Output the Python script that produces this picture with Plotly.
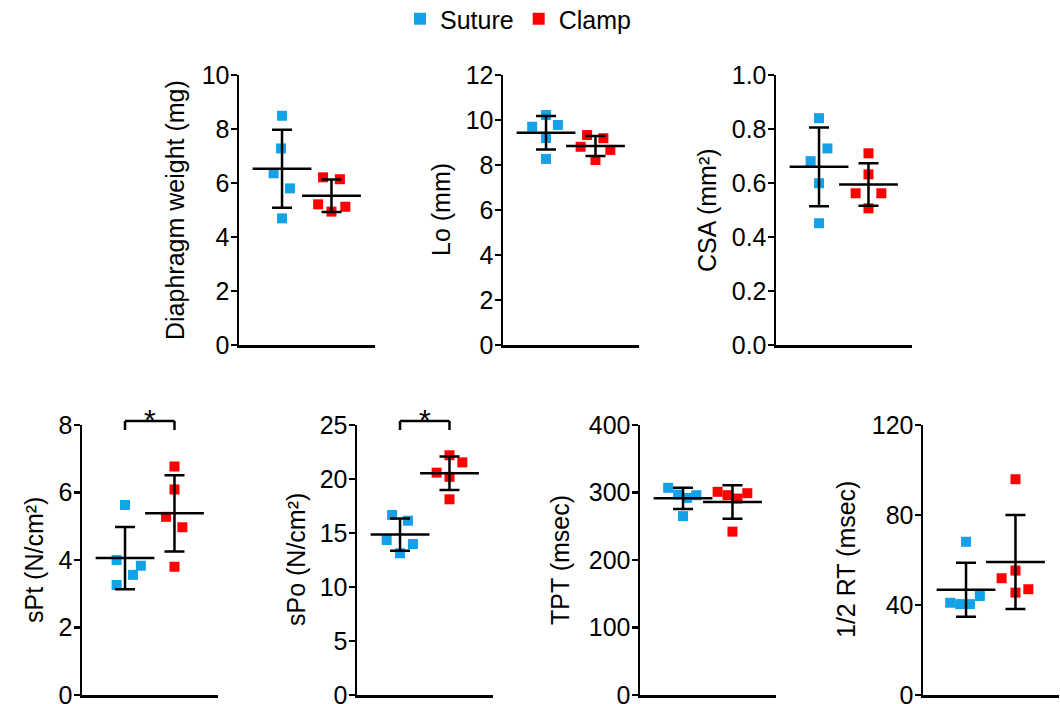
import numpy as np
import plotly.graph_objects as go

# ---------------- data ----------------
groups = ["Suture", "Clamp"]
group_pos = [1, 2]

weight_suture = [8.49, 7.28, 6.36, 5.80, 4.69]
weight_clamp = [6.21, 6.14, 5.21, 5.12, 4.94]
weight_suture_jit = [0.0, -0.02, -0.17, 0.16, 0.0]
weight_clamp_jit = [-0.17, 0.17, -0.27, 0.28, 0.0]

lo_suture = [10.22, 9.70, 9.78, 9.20, 8.27]
lo_clamp = [9.33, 9.19, 8.81, 8.67, 8.22]
lo_suture_jit = [0.0, -0.28, 0.24, 0.0, 0.0]
lo_clamp_jit = [-0.17, 0.16, -0.30, 0.30, 0.0]

csa_suture = [0.84, 0.728, 0.681, 0.599, 0.451]
csa_clamp = [0.71, 0.632, 0.562, 0.562, 0.506]
csa_suture_jit = [0.0, 0.17, -0.17, 0.0, 0.0]
csa_clamp_jit = [0.0, 0.0, -0.26, 0.26, 0.0]

spt_suture = [5.63, 4.00, 3.83, 3.56, 3.26]
spt_clamp = [6.77, 6.09, 5.28, 4.97, 3.80]
spt_suture_jit = [0.0, -0.17, 0.32, 0.16, -0.17]
spt_clamp_jit = [0.0, 0.0, -0.17, 0.16, 0.0]

spo_suture = [16.67, 16.14, 14.35, 13.98, 13.12]
spo_clamp = [22.2, 21.54, 20.59, 20.2, 18.12]
spo_suture_jit = [-0.16, 0.16, -0.27, 0.26, 0.0]
spo_clamp_jit = [0.0, 0.26, -0.26, 0.0, 0.0]

tpt_suture = [307, 297, 296, 292, 265]
tpt_clamp = [301, 296, 291, 299, 242]
tpt_suture_jit = [-0.30, -0.10, 0.27, 0.08, 0.0]
tpt_clamp_jit = [-0.30, -0.10, 0.10, 0.30, 0.0]

rt_suture = [68.1, 44.0, 41.0, 40.4, 40.4]
rt_clamp = [95.9, 55.3, 51.9, 47.0, 45.5]
rt_suture_jit = [0.0, 0.28, -0.32, -0.12, 0.08]
rt_clamp_jit = [0.0, 0.0, -0.28, 0.26, 0.0]

titles = ["Diaphragm weight (mg)", "Lo (mm)", "CSA (mm²)",
          "sPt (N/cm²)", "sPo (N/cm²)", "TPT (msec)", "1/2 RT (msec)"]
ymax = [10, 12, 1.0, 8, 25, 400, 120]
dticks = [2, 2, 0.2, 2, 5, 100, 40]
tickformats = ["d", "d", ".1f", "d", "d", "d", "d"]
significant = [False, False, False, True, True, False, False]

suture_sets = [weight_suture, lo_suture, csa_suture, spt_suture, spo_suture, tpt_suture, rt_suture]
clamp_sets = [weight_clamp, lo_clamp, csa_clamp, spt_clamp, spo_clamp, tpt_clamp, rt_clamp]
suture_jits = [weight_suture_jit, lo_suture_jit, csa_suture_jit, spt_suture_jit,
               spo_suture_jit, tpt_suture_jit, rt_suture_jit]
clamp_jits = [weight_clamp_jit, lo_clamp_jit, csa_clamp_jit, spt_clamp_jit,
              spo_clamp_jit, tpt_clamp_jit, rt_clamp_jit]

# ---------------- layout geometry (pixels) ----------------
W, H = 1060, 704
x_px = [(239, 375), (503, 639), (776, 912), (82, 218), (357, 493), (640, 776), (923, 1059)]
y_px = [(75, 345)] * 3 + [(425, 695)] * 4
title_px = [(175, 210), (441, 210), (707, 210), (34, 560), (296, 560), (560, 560), (846, 560)]

colors = {"Suture": "#15A1E8", "Clamp": "#FF0000"}
FONT = "Liberation Sans, Arial, Helvetica, sans-serif"
FS = 25
LW = 2.5

fig = go.Figure()
layout = dict(
    width=W, height=H,
    margin=dict(l=0, r=0, t=0, b=0, pad=0, autoexpand=False),
    paper_bgcolor="white", plot_bgcolor="white",
    font=dict(family=FONT, size=FS, color="black"),
    showlegend=True,
    legend=dict(orientation="h", x=0.5 - 12 / W, xanchor="center", y=1.0 + 4 / H,
                yanchor="top", font=dict(size=FS), itemclick=False,
                itemdoubleclick=False, tracegroupgap=0),
    hovermode=False,
)
annotations = []
shapes = []

for i in range(7):
    n = i + 1
    xa = "x" if n == 1 else f"x{n}"
    ya = "y" if n == 1 else f"y{n}"
    x0, x1 = x_px[i]
    yt, yb = y_px[i]
    layout[f"xaxis{n}" if n > 1 else "xaxis"] = dict(
        domain=[x0 / W, x1 / W], anchor=ya, range=[0.13, 2.88],
        showline=True, linecolor="black", linewidth=LW, showticklabels=False,
        ticks="", showgrid=False, zeroline=False, fixedrange=True)
    layout[f"yaxis{n}" if n > 1 else "yaxis"] = dict(
        domain=[1 - yb / H, 1 - yt / H], anchor=xa, range=[0, ymax[i]],
        dtick=dticks[i], tick0=0, tickformat=tickformats[i],
        showline=True, linecolor="black", linewidth=LW,
        ticks="outside", ticklen=6, tickwidth=LW, tickcolor="black",
        ticklabelstandoff=-4, ticklabeloverflow="allow",
        tickfont=dict(size=FS, color="black"),
        showgrid=False, zeroline=False, fixedrange=True)

    for g, vals, jit, gp in ((groups[0], suture_sets[i], suture_jits[i], group_pos[0]),
                             (groups[1], clamp_sets[i], clamp_jits[i], group_pos[1])):
        fig.add_trace(go.Scatter(
            x=[gp + j for j in jit], y=vals, mode="markers", xaxis=xa, yaxis=ya,
            marker=dict(symbol="square", size=10, color=colors[g], line=dict(width=0)),
            showlegend=False, name=g))
    for g, vals, gp in ((groups[0], suture_sets[i], group_pos[0]),
                        (groups[1], clamp_sets[i], group_pos[1])):
        m = float(np.mean(vals))
        sd = float(np.std(vals, ddof=1))
        fig.add_trace(go.Scatter(
            x=[gp], y=[m], mode="markers", xaxis=xa, yaxis=ya, showlegend=False,
            marker=dict(symbol="line-ew", size=42, color="black",
                        line=dict(width=LW, color="black")),
            error_y=dict(type="data", array=[sd], visible=True, color="black",
                         thickness=LW, width=10)))

    annotations.append(dict(
        text=titles[i], xref="paper", yref="paper",
        x=title_px[i][0] / W, y=1 - title_px[i][1] / H,
        xanchor="center", yanchor="middle", textangle=-90, showarrow=False,
        font=dict(size=FS, color="black", family=FONT)))

    if significant[i]:
        ydom = f"{ya} domain"
        top, foot = 1 + 4 / 270, 1 - 5 / 270
        for (ax0, ay0, ax1, ay1) in ((group_pos[0], foot, group_pos[0], top),
                                     (group_pos[0], top, group_pos[1], top),
                                     (group_pos[1], top, group_pos[1], foot)):
            shapes.append(dict(type="line", xref=xa, yref=ydom, x0=ax0, y0=ay0,
                               x1=ax1, y1=ay1, line=dict(color="black", width=LW)))
        annotations.append(dict(
            text="*", xref=xa, yref=ydom, x=(group_pos[0] + group_pos[1]) / 2,
            y=top, xanchor="center", yanchor="middle", yshift=1, showarrow=False,
            font=dict(size=30, color="black", family=FONT)))

# legend entries
for g in groups:
    fig.add_trace(go.Scatter(x=[None], y=[None], mode="markers", name=g,
                             marker=dict(symbol="square", size=12, color=colors[g]),
                             showlegend=True))

layout["annotations"] = annotations
layout["shapes"] = shapes
fig.update_layout(**layout)
fig.write_html("out.html", config={"displayModeBar": False, "staticPlot": True},
               post_script="document.body.style.margin='0px';document.body.style.overflow='hidden';")
